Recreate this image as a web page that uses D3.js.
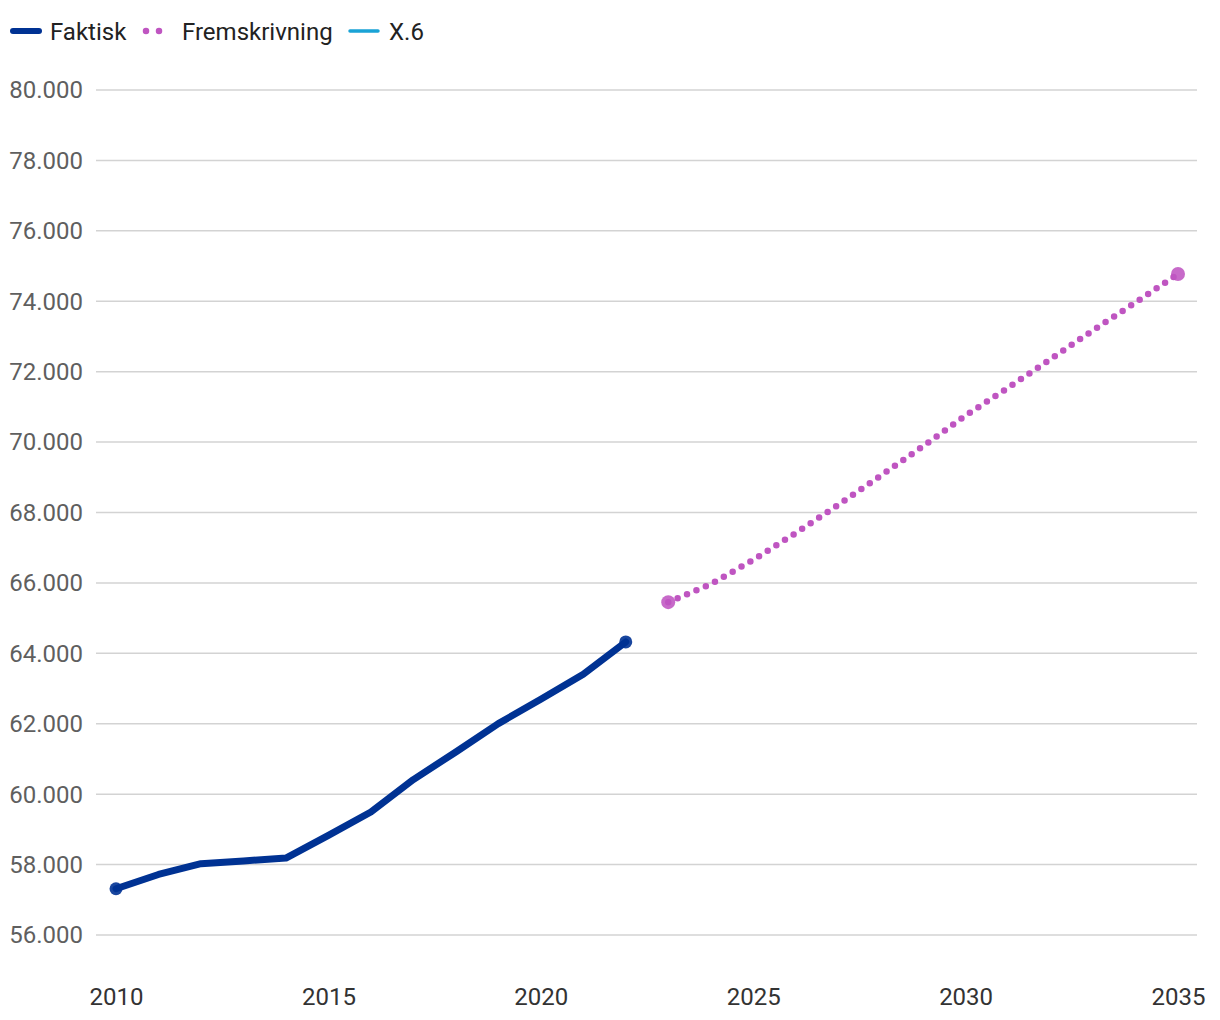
<!DOCTYPE html>
<html><head><meta charset="utf-8">
<script src="https://cdn.jsdelivr.net/npm/d3@7/dist/d3.min.js"></script>
<style>body{margin:0;background:#fff;font-family:Roboto,sans-serif}</style>
</head><body><svg id="c" width="1220" height="1020"></svg>
<script>
const faktiskYears = [2010,2011,2012,2013,2014,2015,2016,2017,2018,2019,2020,2021,2022];
const faktiskValues = [57300,57705,58010,58090,58170,58815,59480,60400,61185,61990,62680,63390,64310];
const fremYears = [2023,2024,2025,2026,2027,2028,2029,2030,2031,2032,2033,2034,2035];
const fremValues = [65440,65950,66640,67400,68200,69030,69870,70740,71530,72340,73160,73950,74760];
const yTicks = [56000,58000,60000,62000,64000,66000,68000,70000,72000,74000,76000,78000,80000];
const xTicks = [2010,2015,2020,2025,2030,2035];
const legendItems = ["Faktisk","Fremskrivning","X.6"];
const colors = {faktisk:"#003293", frem:"#bf55c1", x6:"#1aa3d6"};

const svg = d3.select("#c");
const x = d3.scaleLinear().domain([2010,2035]).range([116,1178]);
const y = d3.scaleLinear().domain([56000,80000]).range([934.5,89.5]);
const fmt = v => d3.format(",")(v).replace(/,/g,".");

// grid
const yAxis = d3.axisLeft(y).tickValues(yTicks).tickSize(-1101).tickFormat(fmt).tickPadding(13);
const gy = svg.append("g").attr("transform","translate(96,0)").call(yAxis);
gy.select(".domain").remove();
gy.selectAll(".tick line").attr("stroke","#d3d3d3").attr("stroke-width",1.5);
gy.selectAll(".tick text").attr("fill","#5f5f5f").attr("font-size",24).attr("font-family","Roboto").attr("dy","0.35em");

const xAxis = d3.axisBottom(x).tickValues(xTicks).tickSize(0).tickFormat(d3.format("d")).tickPadding(0);
const gx = svg.append("g").attr("transform","translate(0,1005)").call(xAxis);
gx.select(".domain").remove();
gx.selectAll(".tick text").attr("fill","#333").attr("font-size",24).attr("font-family","Roboto").attr("dy","0");

// lines
const line = d3.line().x(d=>x(d[0])).y(d=>y(d[1]));
const fData = faktiskYears.map((yr,i)=>[yr,faktiskValues[i]]);
const pData = fremYears.map((yr,i)=>[yr,fremValues[i]]);

svg.append("path").datum(fData).attr("d",line).attr("fill","none")
  .attr("stroke",colors.faktisk).attr("stroke-width",7).attr("stroke-linejoin","round").attr("stroke-linecap","round");
svg.selectAll(".fm").data([fData[0],fData[fData.length-1]]).enter().append("circle")
  .attr("cx",d=>x(d[0])).attr("cy",d=>y(d[1])).attr("r",6.5).attr("fill",colors.faktisk).attr("opacity",0.9);

svg.append("path").datum(pData).attr("d",line).attr("fill","none")
  .attr("stroke",colors.frem).attr("stroke-width",6.5).attr("stroke-linecap","round").attr("stroke-dasharray","0 10.2");
svg.selectAll(".pm").data([pData[0],pData[pData.length-1]]).enter().append("circle")
  .attr("cx",d=>x(d[0])).attr("cy",d=>y(d[1])).attr("r",7).attr("fill",colors.frem).attr("opacity",0.88);

// legend
const lg = svg.append("g").attr("font-family","Roboto").attr("font-size",24).attr("fill","#222");
lg.append("line").attr("x1",13).attr("x2",39).attr("y1",31).attr("y2",31).attr("stroke",colors.faktisk).attr("stroke-width",6).attr("stroke-linecap","round");
lg.append("text").attr("x",50).attr("y",40).text(legendItems[0]);
lg.append("line").attr("x1",146).attr("x2",159.5).attr("y1",31).attr("y2",31).attr("stroke",colors.frem).attr("stroke-width",6.5).attr("stroke-linecap","round").attr("stroke-dasharray","0 13");
lg.append("text").attr("x",182).attr("y",40).text(legendItems[1]);
lg.append("line").attr("x1",350).attr("x2",378).attr("y1",31).attr("y2",31).attr("stroke",colors.x6).attr("stroke-width",3.5).attr("stroke-linecap","round");
lg.append("text").attr("x",389).attr("y",40).text(legendItems[2]);
</script></body></html>
